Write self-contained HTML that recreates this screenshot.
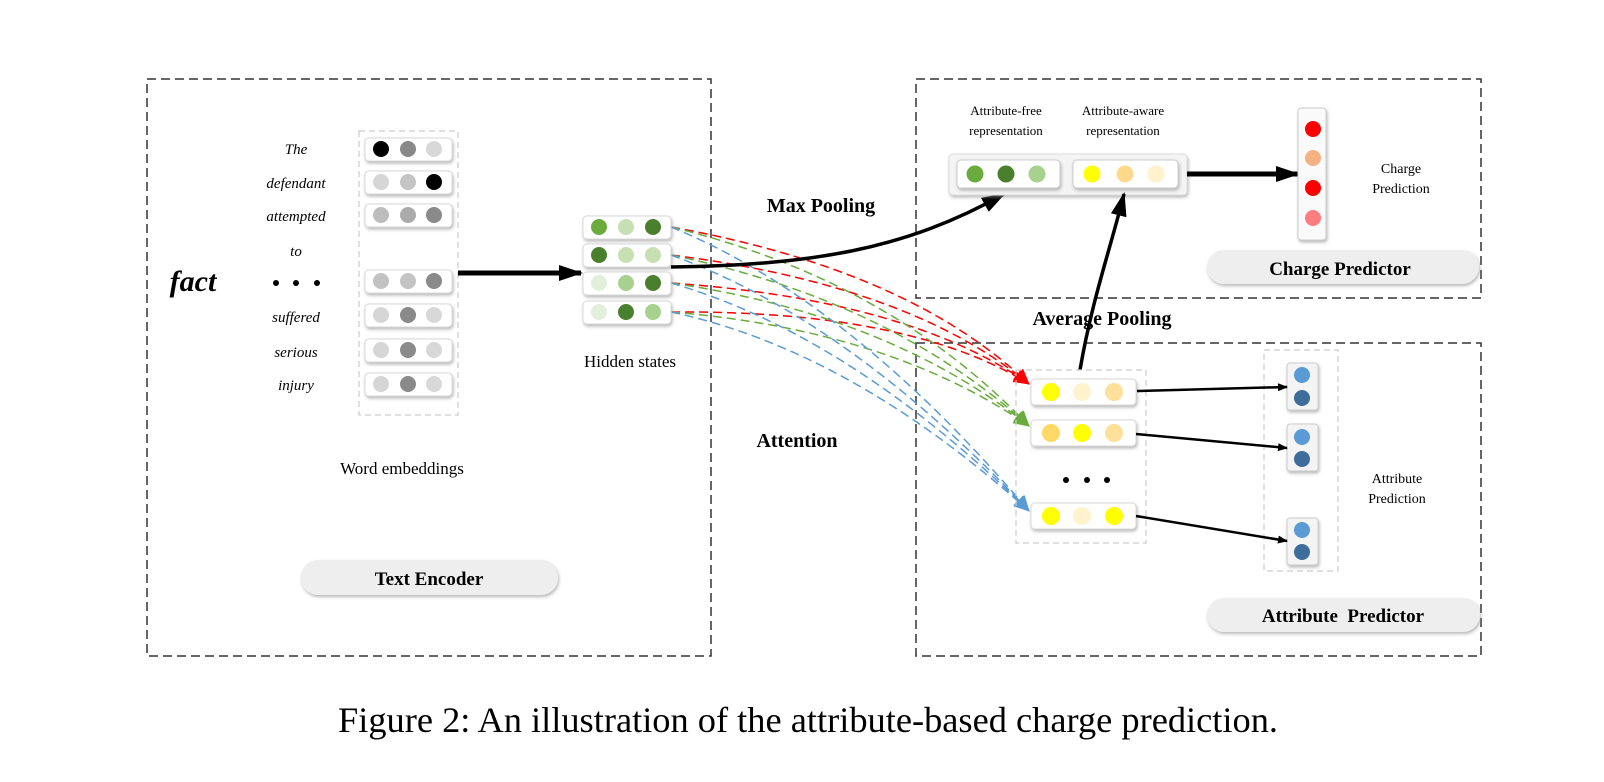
<!DOCTYPE html>
<html><head><meta charset="utf-8"><style>
body{margin:0;background:#fff}
svg{display:block}
text{font-family:"Liberation Serif",serif;fill:#000}
.b{font-weight:bold}
</style></head><body>
<svg width="1604" height="782" viewBox="0 0 1604 782" xmlns="http://www.w3.org/2000/svg">
<defs>
<filter id="sh" x="-20%" y="-20%" width="140%" height="160%"><feDropShadow dx="1" dy="2" stdDeviation="1.5" flood-color="#888" flood-opacity="0.6"/></filter>
<marker id="ak" markerWidth="10" markerHeight="8" refX="9" refY="4" orient="auto" markerUnits="userSpaceOnUse"><path d="M0,0L10,4L0,8z" fill="#000"/></marker>
<marker id="akb" markerWidth="24" markerHeight="16" refX="22" refY="8" orient="auto" markerUnits="userSpaceOnUse"><path d="M0,0L24,8L0,16z" fill="#000"/></marker>
<marker id="ar" markerWidth="16" markerHeight="14" refX="15" refY="7" orient="auto" markerUnits="userSpaceOnUse"><path d="M0,0L16,7L0,14z" fill="#f00"/></marker>
<marker id="ag" markerWidth="16" markerHeight="14" refX="15" refY="7" orient="auto" markerUnits="userSpaceOnUse"><path d="M0,0L16,7L0,14z" fill="#6aab3e"/></marker>
<marker id="ab" markerWidth="16" markerHeight="14" refX="15" refY="7" orient="auto" markerUnits="userSpaceOnUse"><path d="M0,0L16,7L0,14z" fill="#5b9bd5"/></marker>
</defs>

<g fill="none" stroke="#333" stroke-width="1.5" stroke-dasharray="9,5">
<rect x="147" y="79" width="564" height="577"/>
<rect x="916" y="79" width="565" height="219"/>
<rect x="916" y="343" width="565" height="313"/>
</g>

<rect x="359" y="131" width="99" height="284" fill="none" stroke="#ccc" stroke-width="1.2" stroke-dasharray="6,4"/>
<g font-style="italic" font-size="15" text-anchor="middle">
<text x="296" y="154">The</text>
<text x="296" y="188">defendant</text>
<text x="296" y="221">attempted</text>
<text x="296" y="256">to</text>
<text x="296" y="322">suffered</text>
<text x="296" y="357">serious</text>
<text x="296" y="390">injury</text>
</g>
<g fill="#000"><circle cx="276" cy="283" r="3"/><circle cx="296" cy="283" r="3"/><circle cx="317" cy="283" r="3"/></g>
<text x="193" y="291" font-size="30" font-style="italic" font-weight="bold" text-anchor="middle">fact</text>

<g filter="url(#sh)" fill="#fff" stroke="#d8d8d8">
<rect x="365" y="138" width="87" height="23" rx="4"/>
<rect x="365" y="171" width="87" height="23" rx="4"/>
<rect x="365" y="204" width="87" height="23" rx="4"/>
<rect x="365" y="270" width="87" height="23" rx="4"/>
<rect x="365" y="304" width="87" height="23" rx="4"/>
<rect x="365" y="339" width="87" height="23" rx="4"/>
<rect x="365" y="373" width="87" height="23" rx="4"/>
</g>
<circle cx="381" cy="149" r="8" fill="#000"/><circle cx="408" cy="149" r="8" fill="#888"/><circle cx="434" cy="149" r="8" fill="#d8d8d8"/>
<circle cx="381" cy="182" r="8" fill="#d6d6d6"/><circle cx="408" cy="182" r="8" fill="#c4c4c4"/><circle cx="434" cy="182" r="8" fill="#000"/>
<circle cx="381" cy="215" r="8" fill="#bdbdbd"/><circle cx="408" cy="215" r="8" fill="#ababab"/><circle cx="434" cy="215" r="8" fill="#8a8a8a"/>
<circle cx="381" cy="281" r="8" fill="#c2c2c2"/><circle cx="408" cy="281" r="8" fill="#c4c4c4"/><circle cx="434" cy="281" r="8" fill="#8a8a8a"/>
<circle cx="381" cy="315" r="8" fill="#d6d6d6"/><circle cx="408" cy="315" r="8" fill="#8a8a8a"/><circle cx="434" cy="315" r="8" fill="#d8d8d8"/>
<circle cx="381" cy="350" r="8" fill="#d6d6d6"/><circle cx="408" cy="350" r="8" fill="#8a8a8a"/><circle cx="434" cy="350" r="8" fill="#d8d8d8"/>
<circle cx="381" cy="384" r="8" fill="#d6d6d6"/><circle cx="408" cy="384" r="8" fill="#8a8a8a"/><circle cx="434" cy="384" r="8" fill="#d8d8d8"/>
<text x="402" y="474" font-size="17" text-anchor="middle">Word embeddings</text>

<line x1="458" y1="273" x2="581" y2="273" stroke="#000" stroke-width="5" marker-end="url(#akb)"/>

<g fill="none" stroke-width="1.5" stroke-dasharray="9,5">
<g stroke="#f00" marker-end="url(#ar)">
<path d="M671,227 Q910,270 1029,384"/>
<path d="M671,255 Q910,285 1029,384"/>
<path d="M671,283 Q910,300 1029,384"/>
<path d="M671,312 Q910,310 1029,384"/>
</g>
<g stroke="#6aab3e" marker-end="url(#ag)">
<path d="M671,227 Q890,280 1029,426"/>
<path d="M671,255 Q890,300 1029,426"/>
<path d="M671,283 Q890,315 1029,426"/>
<path d="M671,312 Q890,330 1029,426"/>
</g>
<g stroke="#5b9bd5" marker-end="url(#ab)">
<path d="M671,227 Q850,300 1029,511"/>
<path d="M671,255 Q850,320 1029,511"/>
<path d="M671,283 Q850,335 1029,511"/>
<path d="M671,312 Q850,350 1029,511"/>
</g>
</g>

<g filter="url(#sh)" fill="#fff" stroke="#d8d8d8">
<rect x="583" y="216" width="88" height="23" rx="4"/>
<rect x="583" y="244" width="88" height="23" rx="4"/>
<rect x="583" y="272" width="88" height="23" rx="4"/>
<rect x="583" y="301" width="88" height="23" rx="4"/>
</g>
<circle cx="599" cy="227" r="8" fill="#6aab3e"/><circle cx="626" cy="227" r="8" fill="#c6e0b4"/><circle cx="653" cy="227" r="8" fill="#4a7f2e"/>
<circle cx="599" cy="255" r="8" fill="#4a7f2e"/><circle cx="626" cy="255" r="8" fill="#c6e0b4"/><circle cx="653" cy="255" r="8" fill="#c6e0b4"/>
<circle cx="599" cy="283" r="8" fill="#e2efda"/><circle cx="626" cy="283" r="8" fill="#a9d18e"/><circle cx="653" cy="283" r="8" fill="#4a7f2e"/>
<circle cx="599" cy="312" r="8" fill="#e2efda"/><circle cx="626" cy="312" r="8" fill="#4a7f2e"/><circle cx="653" cy="312" r="8" fill="#a9d18e"/>
<text x="630" y="367" font-size="17" text-anchor="middle">Hidden states</text>

<path d="M671,267 C810,265 905,250 1004,194" fill="none" stroke="#000" stroke-width="3.5" marker-end="url(#akb)"/>
<text x="821" y="212" font-size="20" class="b" text-anchor="middle">Max Pooling</text>
<text x="797" y="447" font-size="20" class="b" text-anchor="middle">Attention</text>
<text x="1102" y="325" font-size="20" class="b" text-anchor="middle">Average   Pooling</text>

<text font-size="13" text-anchor="middle"><tspan x="1006" y="115">Attribute-free</tspan><tspan x="1006" y="135">representation</tspan></text>
<text font-size="13" text-anchor="middle"><tspan x="1123" y="115">Attribute-aware</tspan><tspan x="1123" y="135">representation</tspan></text>
<rect x="949" y="154" width="238" height="41" rx="4" fill="#f4f4f4" stroke="#ddd" filter="url(#sh)"/>
<rect x="957" y="160" width="103" height="28" rx="4" fill="#fff" stroke="#ccc" filter="url(#sh)"/>
<rect x="1073" y="160" width="105" height="28" rx="4" fill="#fff" stroke="#ccc" filter="url(#sh)"/>
<circle cx="975" cy="174" r="8.5" fill="#6aab3e"/><circle cx="1006" cy="174" r="8.5" fill="#4a7f2e"/><circle cx="1037" cy="174" r="8.5" fill="#a9d18e"/>
<circle cx="1092" cy="174" r="8.5" fill="#ffff00"/><circle cx="1125" cy="174" r="8.5" fill="#ffd98c"/><circle cx="1156" cy="174" r="8.5" fill="#fff2cc"/>
<line x1="1187" y1="174" x2="1298" y2="174" stroke="#000" stroke-width="5" marker-end="url(#akb)"/>
<rect x="1298" y="108" width="28" height="132" rx="3" fill="#fafafa" stroke="#ccc" filter="url(#sh)"/>
<circle cx="1313" cy="129" r="8" fill="#f00"/><circle cx="1313" cy="158" r="8" fill="#f4b183"/><circle cx="1313" cy="188" r="8" fill="#f00"/><circle cx="1313" cy="218" r="8" fill="#ff7c80"/>
<text font-size="14" text-anchor="middle"><tspan x="1401" y="173">Charge</tspan><tspan x="1401" y="193">Prediction</tspan></text>
<rect x="1207" y="250" width="272" height="34" rx="17" fill="#eeeeee" filter="url(#sh)"/>
<text x="1340" y="275" font-size="19" class="b" text-anchor="middle">Charge Predictor</text>

<path d="M1080,370 C1092,300 1110,250 1124,194" fill="none" stroke="#000" stroke-width="3.5" marker-end="url(#akb)"/>

<rect x="1016" y="370" width="130" height="173" fill="none" stroke="#ccc" stroke-width="1.2" stroke-dasharray="6,4"/>
<g filter="url(#sh)" fill="#fff" stroke="#d8d8d8">
<rect x="1031" y="379" width="105" height="26" rx="4"/>
<rect x="1031" y="420" width="105" height="26" rx="4"/>
<rect x="1031" y="503" width="105" height="26" rx="4"/>
</g>
<circle cx="1051" cy="392" r="9" fill="#ffff00"/><circle cx="1082" cy="392" r="9" fill="#fff2cc"/><circle cx="1114" cy="392" r="9" fill="#ffe09a"/>
<circle cx="1051" cy="433" r="9" fill="#ffd966"/><circle cx="1082" cy="433" r="9" fill="#ffff00"/><circle cx="1114" cy="433" r="9" fill="#ffe09a"/>
<circle cx="1051" cy="516" r="9" fill="#ffff00"/><circle cx="1082" cy="516" r="9" fill="#fff2cc"/><circle cx="1114" cy="516" r="9" fill="#ffff00"/>
<g fill="#000"><circle cx="1066" cy="480" r="3"/><circle cx="1087" cy="480" r="3"/><circle cx="1107" cy="480" r="3"/></g>

<rect x="1264" y="350" width="74" height="221" fill="none" stroke="#ccc" stroke-width="1.2" stroke-dasharray="6,4"/>
<g filter="url(#sh)" fill="#f4f4f4" stroke="#ccc">
<rect x="1287" y="363" width="31" height="47" rx="3"/>
<rect x="1287" y="424" width="31" height="47" rx="3"/>
<rect x="1287" y="518" width="31" height="47" rx="3"/>
</g>
<circle cx="1302" cy="375" r="8" fill="#5b9bd5"/><circle cx="1302" cy="398" r="8" fill="#3e6d9c"/>
<circle cx="1302" cy="437" r="8" fill="#5b9bd5"/><circle cx="1302" cy="459" r="8" fill="#3e6d9c"/>
<circle cx="1302" cy="530" r="8" fill="#5b9bd5"/><circle cx="1302" cy="552" r="8" fill="#3e6d9c"/>
<g stroke="#000" stroke-width="2.5" marker-end="url(#ak)">
<line x1="1137" y1="391" x2="1287" y2="387"/>
<line x1="1136" y1="434" x2="1287" y2="448"/>
<line x1="1136" y1="516" x2="1287" y2="541"/>
</g>
<text font-size="14" text-anchor="middle"><tspan x="1397" y="483">Attribute</tspan><tspan x="1397" y="503">Prediction</tspan></text>
<rect x="1207" y="598" width="273" height="34" rx="17" fill="#eeeeee" filter="url(#sh)"/>
<text x="1343" y="622" font-size="19" class="b" text-anchor="middle" xml:space="preserve">Attribute  Predictor</text>

<rect x="301" y="560" width="257" height="35" rx="17" fill="#eeeeee" filter="url(#sh)"/>
<text x="429" y="585" font-size="19" class="b" text-anchor="middle">Text Encoder</text>

<text x="338" y="732" font-size="36" textLength="940" lengthAdjust="spacingAndGlyphs">Figure 2: An illustration of the attribute-based charge prediction.</text>
</svg>
</body></html>
